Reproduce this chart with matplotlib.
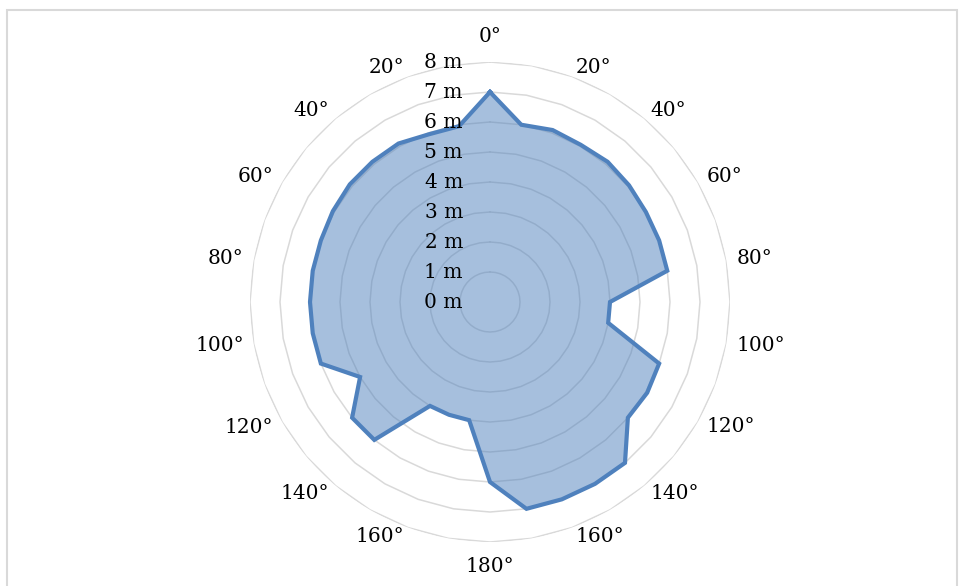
import numpy as np
import matplotlib
matplotlib.use("Agg")
import matplotlib.pyplot as plt
from matplotlib.patches import Rectangle

plt.rcParams['font.family'] = ['DejaVu Serif']

# 方位（每 10° 一個），只有偶數格標示角度
angles = np.arange(0, 360, 10)
cat_labels = ["0°", "", "20°", "", "40°", "", "60°", "", "80°", "",
              "100°", "", "120°", "", "140°", "", "160°", "", "180°", "",
              "160°", "", "140°", "", "120°", "", "100°", "", "80°", "",
              "60°", "", "40°", "", "20°", ""]
# 各方位的距離 (m)
dist = [7.0, 6.0, 6.1, 6.05, 6.1, 6.05, 6.0, 6.0, 6.0, 4.0,
        4.0, 6.0, 6.05, 6.0, 7.0, 7.0, 7.0, 7.0, 6.0, 4.0,
        4.0, 4.0, 6.0, 6.0, 5.0, 6.0, 6.0, 6.0, 6.0, 6.0,
        6.05, 6.1, 6.1, 6.1, 5.95, 5.95]
rings = [1, 2, 3, 4, 5, 6, 7, 8]
ring_labels = ["0 m", "1 m", "2 m", "3 m", "4 m", "5 m", "6 m", "7 m", "8 m"]

FS = 14.5

fig = plt.figure(figsize=(9.64, 5.86), dpi=100)
ax = fig.add_axes([250 / 964, 44 / 586, 480 / 964, 480 / 586], projection='polar')
ax.set_theta_zero_location('N')
ax.set_theta_direction(-1)
ax.set_ylim(0, 8)
ax.grid(False)
ax.spines['polar'].set_visible(False)
ax.set_yticks([])
ax.set_xticks([])

theta = np.deg2rad(angles)
theta_c = np.append(theta, theta[0])

# 多邊形格線
for r in rings:
    ax.plot(theta_c, [r] * len(theta_c), color='#D9D9D9', lw=1.1, zorder=1)

vals_c = np.append(dist, dist[0])
ax.fill(theta_c, vals_c, color='#4F81BD', alpha=0.5, lw=0, zorder=2)
ax.plot(theta_c, vals_c, color='#4F81BD', lw=3, solid_joinstyle='miter', zorder=3)

# 角度標籤：放在最外圈外側，左右兩邊分別靠左/靠右對齊
gap = 10
for a, lab in zip(angles, cat_labels):
    if not lab:
        continue
    t = np.deg2rad(a)
    if a == 0:
        off, ha = (0, 26), 'center'
    elif a == 180:
        off, ha = (0, -25), 'center'
    else:
        off = (gap * np.sin(t), gap * np.cos(t))
        ha = 'left' if a < 180 else 'right'
    ax.annotate(lab, xy=(t, rings[-1]), xytext=off, textcoords='offset pixels',
                ha=ha, va='center', fontsize=FS, annotation_clip=False)

for i, lab in enumerate(ring_labels):
    ax.annotate(lab, xy=(0, i), xytext=(-27, 0), textcoords='offset pixels',
                ha='right', va='center', fontsize=FS, zorder=4)

# 外框
fig.patches.append(Rectangle((7 / 964, -0.05), 950 / 964, 1.05 - 10 / 586,
                             transform=fig.transFigure, fill=False,
                             edgecolor='#D9D9D9', lw=1.5))

fig.savefig("out.png", dpi=100)
